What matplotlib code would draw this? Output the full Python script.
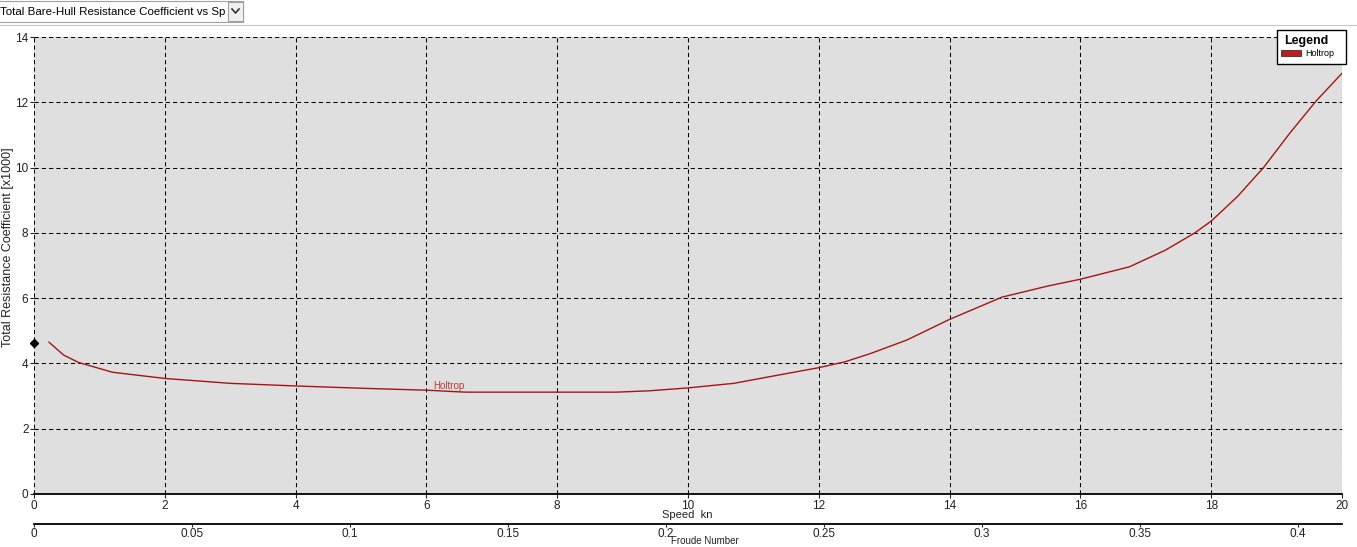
import matplotlib
matplotlib.use("Agg")
import matplotlib.pyplot as plt
from matplotlib.patches import Rectangle
from matplotlib.lines import Line2D

# ---- data ----
speed_kn = [0.23, 0.45, 0.68, 1.2, 2, 3, 4, 5, 6, 6.6, 7, 8, 8.9, 9.4, 10,
            10.7, 11.4, 12, 12.4, 12.8, 13.35, 14, 14.4, 14.8, 15.5, 16,
            16.75, 17.3, 17.75, 18, 18.4, 18.8, 19.2, 19.6, 20]
ct_x1000 = [4.65, 4.26, 4.03, 3.73, 3.54, 3.39, 3.31, 3.24, 3.18, 3.12, 3.12,
            3.12, 3.12, 3.16, 3.25, 3.39, 3.65, 3.87, 4.05, 4.31, 4.72, 5.35,
            5.69, 6.03, 6.37, 6.58, 6.96, 7.47, 8.0, 8.36, 9.11, 10.0, 11.05,
            12.03, 12.89]
marker_speed = [0]
marker_value = [4.63]
speed_ticks = [0, 2, 4, 6, 8, 10, 12, 14, 16, 18, 20]
y_ticks = [0, 2, 4, 6, 8, 10, 12, 14]
froude_ticks = [0, 0.05, 0.1, 0.15, 0.2, 0.25, 0.3, 0.35, 0.4]
froude_tick_labels = ["0", "0.05", "0.1", "0.15", "0.2", "0.25", "0.3", "0.35", "0.4"]
froude_at_20kn = 0.4139
series_name = "Holtrop"

W, H = 1357, 547
fig = plt.figure(figsize=(W / 100, H / 100), dpi=100)
fig.patch.set_facecolor("white")
plt.rcParams['font.family'] = ['Liberation Sans', 'DejaVu Sans']

def fx(px):
    return px / W

def fy(py):
    return 1 - py / H

L, R, T, B = 34, 1342, 37, 494
ax = fig.add_axes([fx(L), fy(B), fx(R) - fx(L), fy(T) - fy(B)])
ax.set_facecolor("#dfdfdf")
ax.set_xlim(0, 20)
ax.set_ylim(0, 14)
for s in ["top", "right", "left"]:
    ax.spines[s].set_visible(False)
ax.spines["bottom"].set_color("black")
ax.spines["bottom"].set_linewidth(1.3)

ax.set_xticks(speed_ticks)
ax.set_yticks(y_ticks)
ax.tick_params(axis="both", labelsize=8.5, colors="#222222", length=3, width=0.8)
ax.tick_params(axis="x", pad=1)
ax.tick_params(axis="y", pad=1)
ax.grid(True, color="black", linestyle=(0, (4, 3)), linewidth=0.75)
ax.set_axisbelow(True)

ax.plot(speed_kn, ct_x1000, color="#a31515", linewidth=1.0, zorder=3)
ax.plot(marker_speed, marker_value, marker="D", color="black", markersize=4,
        linestyle="none", clip_on=False, zorder=4)
ax.text(6.1, 3.3, series_name, color="#b83a3a", fontsize=7, va="center", ha="left")

fig.text(fx(8), fy(247), "Total Resistance Coefficient [x1000]", fontsize=9,
         color="#222222", rotation=90, ha="center", va="center")
fig.text(fx(687), fy(515), "Speed  kn", fontsize=8, ha="center", va="center", color="#222222")

# Froude number secondary axis
k = froude_at_20kn / 20.0
sec = ax.secondary_xaxis(-30 / (B - T), functions=(lambda v: v * k, lambda f: f / k))
sec.set_xticks(froude_ticks)
sec.set_xticklabels(froude_tick_labels)
sec.tick_params(labelsize=8.5, colors="#222222", length=2.5, width=0.8, pad=0.3)
sec.spines["bottom"].set_linewidth(1.3)
fig.text(fx(705), fy(546.5), "Froude Number", fontsize=7, ha="center", va="bottom", color="#222222")

# Legend box
lx0, ly0, lx1, ly1 = 1277, 30, 1346, 64
fig.patches.append(Rectangle((fx(lx0), fy(ly1)), fx(lx1) - fx(lx0), fy(ly0) - fy(ly1),
                             transform=fig.transFigure, facecolor="white",
                             edgecolor="black", linewidth=1.0, zorder=10))
fig.text(fx(1306), fy(41), "Legend", fontsize=9, fontweight="bold", ha="center",
         va="center", zorder=11)
fig.patches.append(Rectangle((fx(1281), fy(56)), fx(20), fy(50) - fy(56),
                             transform=fig.transFigure, facecolor="#c41a1a",
                             edgecolor="#333333", linewidth=0.6, zorder=11))
fig.text(fx(1305), fy(53), series_name, fontsize=6.5, ha="left", va="center", zorder=11)

# Top combo box
fig.patches.append(Rectangle((fx(-2), fy(22)), fx(245), fy(1) - fy(22),
                             transform=fig.transFigure, facecolor="white",
                             edgecolor="#a0a0a0", linewidth=0.8))
fig.patches.append(Rectangle((fx(228), fy(21)), fx(15), fy(2) - fy(21),
                             transform=fig.transFigure, facecolor="#f0f0f0",
                             edgecolor="#a0a0a0", linewidth=0.8))
fig.lines.append(Line2D([fx(232), fx(235.5), fx(239)], [fy(9), fy(13), fy(9)],
                        transform=fig.transFigure, color="#333333", linewidth=1.2))
fig.text(fx(0), fy(12), "Total Bare-Hull Resistance Coefficient vs Sp", fontsize=8.25,
         ha="left", va="center", family=["Liberation Sans", "DejaVu Sans"], color="black")
fig.lines.append(Line2D([0, 1], [fy(24.5), fy(24.5)], transform=fig.transFigure,
                        color="#c8c8c8", linewidth=0.8))

fig.savefig("out.png", dpi=100)
